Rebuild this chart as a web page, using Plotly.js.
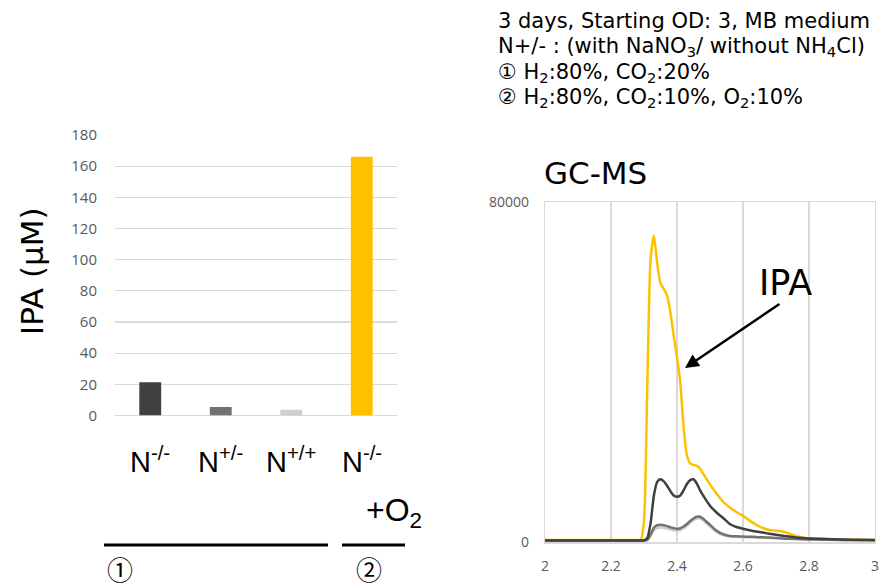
<!DOCTYPE html>
<html><head><meta charset="utf-8">
<script src="https://cdn.plot.ly/plotly-3.0.1.min.js"></script>
<style>html,body{margin:0;padding:0;background:#fff}#chart{width:880px;height:588px}</style>
</head><body><div id="chart"></div>
<script>
// ---- Bar chart data (IPA, µM) ----
var barCategories = ['N-/- (1)', 'N+/- (1)', 'N+/+ (1)', 'N-/- (2)'];
var barLabels = ['N<sup>-/-</sup>', 'N<sup>+/-</sup>', 'N<sup>+/+</sup>', 'N<sup>-/-</sup>'];
var barValues = [21.3, 5.5, 3.7, 166];
var barColors = ['#404040', '#767171', '#d0cece', '#ffc000'];
var barTicks = [0, 20, 40, 60, 80, 100, 120, 140, 160, 180];

// ---- GC-MS chromatogram data ----
var rt = [2.0, 2.1, 2.2, 2.28, 2.29, 2.30, 2.31, 2.32, 2.33, 2.34, 2.35, 2.36, 2.37, 2.38, 2.39, 2.40,
          2.41, 2.42, 2.43, 2.44, 2.45, 2.46, 2.47, 2.48, 2.50, 2.52, 2.54, 2.56, 2.58, 2.60, 2.62,
          2.64, 2.66, 2.68, 2.70, 2.72, 2.74, 2.76, 2.78, 2.80, 2.85, 2.90, 2.95, 3.0];
var sigO2 = [550, 550, 550, 550, 600, 5000, 37000, 66500, 72000, 65500, 60800, 59500, 58000, 54000, 48500, 43500,
             37500, 27000, 20500, 18500, 18200, 17950, 17300, 16000, 13600, 11400, 9500, 8200, 7100, 6200, 5100,
             4100, 3350, 2900, 2750, 2550, 2050, 1500, 1150, 950, 800, 650, 580, 550];
var sigNmm = [400, 400, 400, 400, 400, 450, 1000, 4500, 11000, 14200, 14800, 14300, 13300, 12000, 11000, 10700,
              11000, 12200, 13700, 14600, 14800, 13800, 12200, 10900, 8600, 7000, 5700, 4300, 3600, 3200, 2850,
              2550, 2300, 2000, 1750, 1550, 1350, 1150, 1000, 920, 800, 650, 580, 550];
var sigNpm = [400, 400, 400, 400, 400, 400, 600, 1800, 3400, 4000, 4100, 4000, 3800, 3500, 3300, 3150,
              3300, 3700, 4300, 5000, 5600, 6000, 6000, 5500, 4100, 2700, 1900, 1500, 1400, 1350, 1300,
              1250, 1180, 1100, 1000, 900, 830, 780, 720, 680, 600, 550, 500, 480];
var sigNpp = [400, 400, 400, 400, 400, 400, 550, 1500, 2800, 3300, 3450, 3400, 3200, 3000, 2850, 2750,
              2900, 3300, 3900, 4600, 5200, 5600, 5600, 5100, 3700, 2400, 1700, 1350, 1250, 1200, 1150,
              1100, 1050, 1000, 950, 870, 800, 750, 700, 660, 580, 530, 480, 460];
var gcTicksX = [2, 2.2, 2.4, 2.6, 2.8, 3];
var gcTicksY = [0, 80000];
var gcTickTextY = ['0', '80000'];

var W = 880, H = 588;
function px(x){ return x / W; }
function py(y){ return (H - y) / H; }

var traces = [
  {type:'bar', x: barCategories, y: barValues, marker:{color: barColors}, width: 0.31,
   xaxis:'x', yaxis:'y', hoverinfo:'skip'},
  {type:'scatter', mode:'lines', x: rt, y: sigO2, line:{color:'#ffc000', width:2.5, shape:'spline', smoothing:0.6},
   xaxis:'x2', yaxis:'y2'},
  {type:'scatter', mode:'lines', x: rt, y: sigNpp, line:{color:'#d0cece', width:2.5, shape:'spline', smoothing:0.6},
   xaxis:'x2', yaxis:'y2'},
  {type:'scatter', mode:'lines', x: rt, y: sigNpm, line:{color:'#767171', width:2.5, shape:'spline', smoothing:0.6},
   xaxis:'x2', yaxis:'y2'},
  {type:'scatter', mode:'lines', x: rt, y: sigNmm, line:{color:'#404040', width:2.5, shape:'spline', smoothing:0.6},
   xaxis:'x2', yaxis:'y2'}
];

var tickFont = {family:'Open Sans, Liberation Sans, sans-serif', size:15, color:'#595959'};
var jp = 'DejaVu Sans, Noto Sans CJK JP, sans-serif';
var ar = 'Liberation Sans, Arial, sans-serif';

var annotations = [];
// category labels below bars
barCategories.forEach(function(c, i){
  annotations.push({xref:'x', yref:'paper', x:c, y:py(460), text:barLabels[i], showarrow:false,
    xanchor:'center', yanchor:'middle', font:{family:ar, size:29, color:'#000'}});
});
annotations.push(
  {xref:'paper', yref:'paper', x:px(32), y:py(271), text:'IPA (μM)', textangle:-90, showarrow:false,
   xanchor:'center', yanchor:'middle', font:{family:jp, size:31, color:'#000'}},
  {xref:'paper', yref:'paper', x:px(394), y:py(512), text:'+O<sub>2</sub>', showarrow:false,
   xanchor:'center', yanchor:'middle', font:{family:ar, size:32, color:'#000'}},
  {xref:'paper', yref:'paper', x:px(120), y:py(568), text:'①', showarrow:false,
   xanchor:'center', yanchor:'middle', font:{family:'Noto Sans CJK JP, DejaVu Sans', size:26, color:'#000'}},
  {xref:'paper', yref:'paper', x:px(369), y:py(568), text:'②', showarrow:false,
   xanchor:'center', yanchor:'middle', font:{family:'Noto Sans CJK JP, DejaVu Sans', size:26, color:'#000'}},
  {xref:'paper', yref:'paper', x:px(542), y:py(173), text:'GC-MS', showarrow:false,
   xanchor:'left', yanchor:'middle', font:{family:jp, size:31, color:'#000'}},
  {xref:'paper', yref:'paper', x:px(785), y:py(283), text:'IPA', showarrow:false,
   xanchor:'center', yanchor:'middle', font:{family:jp, size:35, color:'#000'}},
  {xref:'paper', yref:'paper', x:px(685), y:py(368), ax:96, ay:-65, text:'', showarrow:true,
   arrowhead:2, arrowsize:1.1, arrowwidth:2.5, arrowcolor:'#000'},
  {xref:'paper', yref:'paper', x:px(496), y:py(21), text:'3 days, Starting OD: 3, MB medium', showarrow:false,
   xanchor:'left', yanchor:'middle', font:{family:jp, size:21, color:'#000'}},
  {xref:'paper', yref:'paper', x:px(496), y:py(47), text:'N+/- : (with NaNO<sub>3</sub>/ without NH<sub>4</sub>Cl)', showarrow:false,
   xanchor:'left', yanchor:'middle', font:{family:jp, size:21, color:'#000'}},
  {xref:'paper', yref:'paper', x:px(496), y:py(73), text:'① H<sub>2</sub>:80%, CO<sub>2</sub>:20%', showarrow:false,
   xanchor:'left', yanchor:'middle', font:{family:jp, size:21, color:'#000'}},
  {xref:'paper', yref:'paper', x:px(496), y:py(98), text:'② H<sub>2</sub>:80%, CO<sub>2</sub>:10%, O<sub>2</sub>:10%', showarrow:false,
   xanchor:'left', yanchor:'middle', font:{family:jp, size:21, color:'#000'}}
);

var shapes = [
  {type:'line', xref:'paper', yref:'paper', x0:px(104), x1:px(328), y0:py(545), y1:py(545), line:{color:'#000', width:3}},
  {type:'line', xref:'paper', yref:'paper', x0:px(342), x1:px(405), y0:py(545), y1:py(545), line:{color:'#000', width:3}}
];

var layout = {
  width: W, height: H, margin:{l:0, r:0, t:0, b:0}, showlegend:false,
  paper_bgcolor:'#fff', plot_bgcolor:'rgba(0,0,0,0)',
  xaxis:{domain:[px(115), px(397)], type:'category', showgrid:false, showticklabels:false, ticks:'',
         showline:false, zeroline:false, fixedrange:true},
  yaxis:{domain:[py(415.5), py(135)], range:[0,180], tickvals: barTicks, showgrid:true, gridcolor:'#d9d9d9', gridwidth:1.2,
         zeroline:true, zerolinecolor:'#d9d9d9', zerolinewidth:1.2, showline:false,
         ticks:'outside', ticklen:14, tickcolor:'rgba(0,0,0,0)', tickfont: tickFont},
  xaxis2:{domain:[px(545), px(875)], range:[2,3], tickvals: gcTicksX, anchor:'y2',
          showgrid:true, gridcolor:'#d9d9d9', gridwidth:1.2, zeroline:false,
          showline:true, linecolor:'#d9d9d9', linewidth:1.2, mirror:true,
          ticks:'outside', ticklen:11, tickcolor:'rgba(0,0,0,0)', tickfont:{family:tickFont.family, size:14, color:'#595959'}},
  yaxis2:{domain:[py(542.3), py(201.7)], range:[0,80000], tickvals: gcTicksY, ticktext: gcTickTextY, anchor:'x2',
          showgrid:true, gridcolor:'#d9d9d9', gridwidth:1.2, zeroline:false,
          showline:true, linecolor:'#d9d9d9', linewidth:1.2, mirror:true,
          ticks:'outside', ticklen:12, tickcolor:'rgba(0,0,0,0)', tickfont:{family:tickFont.family, size:14, color:'#595959'}},
  annotations: annotations, shapes: shapes
};
Plotly.newPlot('chart', traces, layout, {displayModeBar:false, staticPlot:true});
</script></body></html>
